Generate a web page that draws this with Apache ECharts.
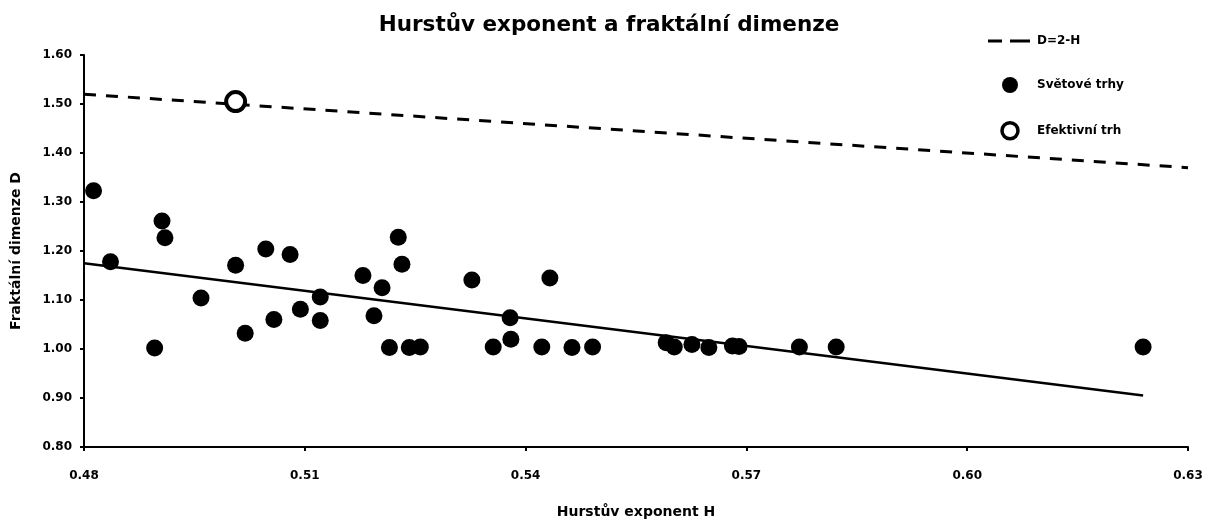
<!DOCTYPE html>
<html>
<head>
<meta charset="utf-8">
<title>Hurstův exponent a fraktální dimenze</title>
<script src="https://cdn.jsdelivr.net/npm/echarts@6/dist/echarts.min.js"></script>
<style>
  html, body { margin: 0; padding: 0; background: #fff; }
  #chart { width: 1209px; height: 523px; }
</style>
</head>
<body>
<div id="chart"></div>
<script>
// hodnoty
var marketH = [0.4813, 0.4906, 0.4910, 0.4836, 0.5006, 0.5047, 0.5080, 0.4959, 0.5121, 0.5094,
  0.5058, 0.5121, 0.5019, 0.4896, 0.5227, 0.5232, 0.5179, 0.5205, 0.5194, 0.5215,
  0.5242, 0.5257, 0.5327, 0.5433, 0.5379, 0.5380, 0.5356, 0.5422, 0.5463, 0.5491,
  0.5591, 0.5602, 0.5626, 0.5649, 0.5681, 0.5690, 0.5772, 0.5822, 0.6239];
var marketD = [1.323, 1.261, 1.227, 1.178, 1.171, 1.204, 1.193, 1.104, 1.106, 1.081,
  1.060, 1.058, 1.032, 1.002, 1.228, 1.173, 1.150, 1.125, 1.068, 1.003,
  1.003, 1.004, 1.141, 1.145, 1.064, 1.020, 1.004, 1.004, 1.003, 1.004,
  1.013, 1.004, 1.009, 1.003, 1.006, 1.005, 1.004, 1.004, 1.004];
var efficientH = [0.5006];
var efficientD = [1.505];
// D = 2 - H, koncové body
var theoryH = [0.48, 0.63];
var theoryD = [1.52, 1.37];
// regresní přímka
var fitH = [0.48, 0.6239];
var fitD = [1.175, 0.905];
var xTicks = [0.48, 0.63, 0.03];
var yTicks = [0.8, 1.6, 0.1];

function pairs(xs, ys) {
  return xs.map(function (x, i) {
    return [x, ys[i]];
  });
}

(function () {
  var myechart = echarts.init(document.getElementById("chart"));
  var font = "DejaVu Sans";
  // ikonka čárkované čáry do legendy (drobné body v rozích drží rozměr 44x16)
  var dashIcon =
    "path://M0,0 L0.1,0 L0.1,0.1 Z M0,6.5 L14,6.5 L14,9.5 L0,9.5 Z " +
    "M22,6.5 L42,6.5 L42,9.5 L22,9.5 Z M43.9,15.9 L44,15.9 L44,16 Z";
  option = {
    animation: false,
    textStyle: {
      fontFamily: font,
      color: "#000",
    },
    title: {
      text: "Hurstův exponent a fraktální dimenze",
      left: 604,
      top: 9,
      textAlign: "center",
      textStyle: {
        fontFamily: font,
        fontSize: 21.5,
        fontWeight: "bold",
        color: "#000",
      },
    },
    legend: {
      orient: "vertical",
      left: 983,
      top: 28,
      itemWidth: 44,
      itemHeight: 16,
      itemGap: 28,
      textStyle: {
        fontFamily: font,
        fontSize: 12,
        fontWeight: "bold",
        color: "#000",
      },
      data: [
        { name: "D=2-H", icon: dashIcon },
        { name: "Světové trhy", icon: "circle" },
        { name: "Efektivní trh", icon: "circle", itemStyle: { borderWidth: 3.5 } },
      ],
    },
    grid: {
      left: 84,
      right: 21,
      top: 55,
      bottom: 76,
      containLabel: false,
      outerBoundsMode: "none",
    },
    xAxis: {
      type: "value",
      min: xTicks[0],
      max: xTicks[1],
      interval: xTicks[2],
      name: "Hurstův exponent H",
      nameLocation: "middle",
      nameGap: 58,
      nameTextStyle: {
        fontFamily: font,
        fontSize: 14,
        fontWeight: "bold",
        color: "#000",
      },
      axisLine: { lineStyle: { color: "#000", width: 2 } },
      axisTick: { length: 4, lineStyle: { color: "#000", width: 2 } },
      splitLine: { show: false },
      axisLabel: {
        margin: 23,
        fontSize: 12,
        fontWeight: "bold",
        color: "#000",
        formatter: function (v) {
          return v.toFixed(2);
        },
      },
    },
    yAxis: {
      type: "value",
      min: yTicks[0],
      max: yTicks[1],
      interval: yTicks[2],
      name: "Fraktální dimenze D",
      nameLocation: "middle",
      nameGap: 61,
      nameTextStyle: {
        fontFamily: font,
        fontSize: 14,
        fontWeight: "bold",
        color: "#000",
      },
      axisLine: { show: true, lineStyle: { color: "#000", width: 2 } },
      axisTick: { show: true, length: 4, lineStyle: { color: "#000", width: 2 } },
      splitLine: { show: false },
      axisLabel: {
        margin: 12,
        fontSize: 12,
        fontWeight: "bold",
        color: "#000",
        formatter: function (v) {
          return v.toFixed(2);
        },
      },
    },
    series: [
      {
        name: "D=2-H",
        type: "line",
        symbol: "none",
        lineStyle: { color: "#000", width: 3, type: [12, 10] },
        itemStyle: { color: "#000" },
        data: pairs(theoryH, theoryD),
        z: 1,
      },
      {
        name: "trend",
        type: "line",
        symbol: "none",
        lineStyle: { color: "#000", width: 2.5 },
        data: pairs(fitH, fitD),
        z: 1,
      },
      {
        name: "Světové trhy",
        type: "scatter",
        symbol: "circle",
        symbolSize: 17,
        itemStyle: { color: "#000", opacity: 1 },
        data: pairs(marketH, marketD),
        z: 3,
      },
      {
        name: "Efektivní trh",
        type: "scatter",
        symbol: "circle",
        symbolSize: 19,
        itemStyle: { color: "#fff", borderColor: "#000", borderWidth: 4, opacity: 1 },
        data: pairs(efficientH, efficientD),
        z: 3,
      },
    ],
  };

  myechart.setOption(option);
  window.addEventListener("resize", function () {
    myechart.resize();
  });
})();
</script>
</body>
</html>
